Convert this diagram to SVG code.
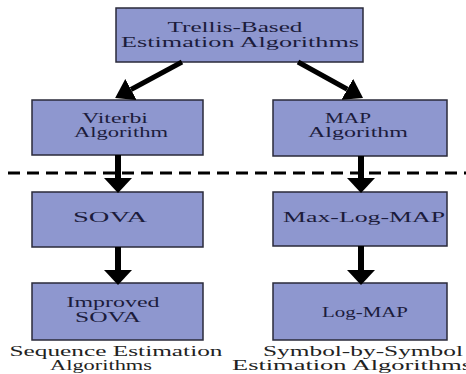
<svg xmlns="http://www.w3.org/2000/svg" width="466" height="374" viewBox="0 0 466 374">
<style>
.box{fill:#8e97cf;stroke:#2a2a3a;stroke-width:1.5}
text{font-family:'Liberation Serif','DejaVu Serif',serif;font-size:14px;text-anchor:middle}
.t{fill:#1c1c3c}
.cap{fill:#222}
.sh{stroke:#000;fill:none}
</style>
<defs>
<marker id="hv" markerUnits="userSpaceOnUse" markerWidth="15" markerHeight="28" viewBox="0 0 15 28" refX="0" refY="14" orient="auto"><path d="M0,0 L15,14 L0,28 z" fill="#000"/></marker>
<marker id="hd" markerUnits="userSpaceOnUse" markerWidth="18" markerHeight="24" viewBox="0 0 18 24" refX="0" refY="12" orient="auto"><path d="M0,0 L18,12 L0,24 z" fill="#000"/></marker>
</defs>
<line x1="8" y1="173" x2="466" y2="173" stroke="#000" stroke-width="3" stroke-dasharray="12 7"/>
<g id="n-trellis"><rect class="box" x="116" y="8" width="247" height="54"/>
<text class="t" x="235" y="32" textLength="135" lengthAdjust="spacingAndGlyphs">Trellis-Based</text>
<text class="t" x="240" y="47" textLength="238" lengthAdjust="spacingAndGlyphs">Estimation Algorithms</text></g>
<g id="n-viterbi"><rect class="box" x="32" y="100" width="171" height="55"/>
<text class="t" x="115" y="123" textLength="66" lengthAdjust="spacingAndGlyphs">Viterbi</text>
<text class="t" x="121" y="137" textLength="94" lengthAdjust="spacingAndGlyphs">Algorithm</text></g>
<g id="n-map"><rect class="box" x="273" y="100" width="174" height="56"/>
<text class="t" x="348" y="123" textLength="46" lengthAdjust="spacingAndGlyphs">MAP</text>
<text class="t" x="358" y="137" textLength="100" lengthAdjust="spacingAndGlyphs">Algorithm</text></g>
<g id="n-sova"><rect class="box" x="32" y="192" width="171" height="55"/>
<text class="t" x="110" y="222" textLength="74" lengthAdjust="spacingAndGlyphs">SOVA</text></g>
<g id="n-maxlogmap"><rect class="box" x="273" y="192" width="174" height="54"/>
<text class="t" x="364" y="222" textLength="162" lengthAdjust="spacingAndGlyphs">Max-Log-MAP</text></g>
<g id="n-improved"><rect class="box" x="32" y="283" width="171" height="57"/>
<text class="t" x="113" y="307" textLength="93" lengthAdjust="spacingAndGlyphs">Improved</text>
<text class="t" x="108" y="322" textLength="66" lengthAdjust="spacingAndGlyphs">SOVA</text></g>
<g id="n-logmap"><rect class="box" x="273" y="283" width="174" height="57"/>
<text class="t" x="365" y="317" textLength="86" lengthAdjust="spacingAndGlyphs">Log-MAP</text></g>
<g id="captions">
<text class="cap" x="116" y="356" textLength="213" lengthAdjust="spacingAndGlyphs">Sequence Estimation</text>
<text class="cap" x="101" y="370" textLength="102" lengthAdjust="spacingAndGlyphs">Algorithms</text>
<text class="cap" x="363" y="356" textLength="200" lengthAdjust="spacingAndGlyphs">Symbol-by-Symbol</text>
<text class="cap" x="352" y="370" textLength="240" lengthAdjust="spacingAndGlyphs">Estimation Algorithms</text>
</g>
<g id="connectors">
<line class="sh" x1="182" y1="62" x2="131" y2="89.5" stroke-width="5" marker-end="url(#hd)"/>
<line class="sh" x1="298" y1="62" x2="347.3" y2="89.3" stroke-width="5" marker-end="url(#hd)"/>
<line class="sh" x1="118" y1="155" x2="118" y2="178" stroke-width="6" marker-end="url(#hv)"/>
<line class="sh" x1="361" y1="156" x2="361" y2="178" stroke-width="6" marker-end="url(#hv)"/>
<line class="sh" x1="118" y1="247" x2="118" y2="270" stroke-width="6" marker-end="url(#hv)"/>
<line class="sh" x1="361" y1="246" x2="361" y2="270" stroke-width="6" marker-end="url(#hv)"/>
</g>
</svg>
